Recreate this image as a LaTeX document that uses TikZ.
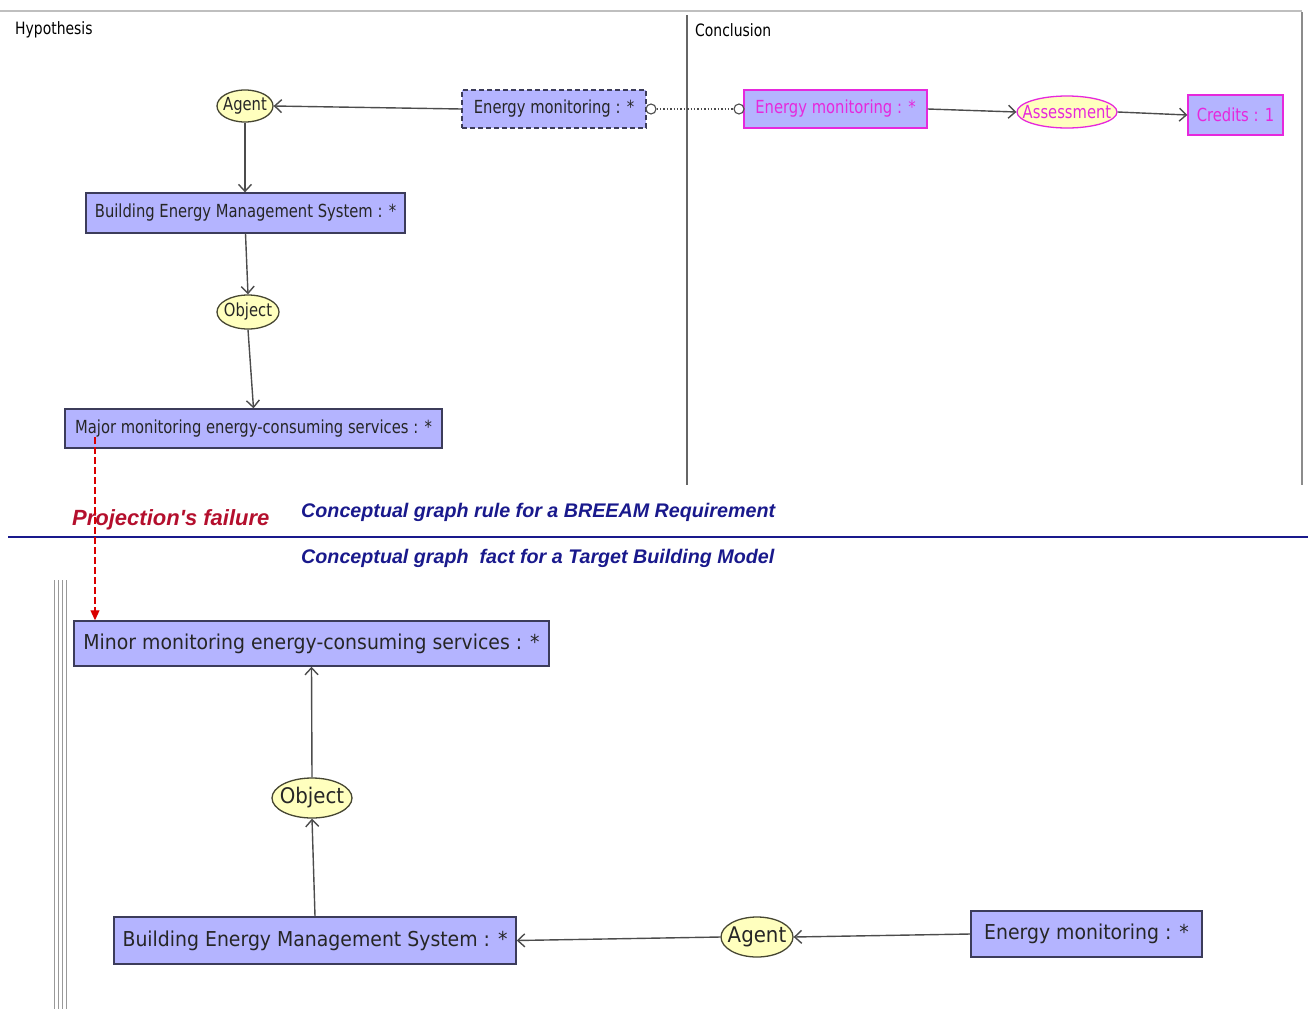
\documentclass[tikz,border=0pt]{standalone}
\usepackage{fontspec}
\setmainfont{DejaVu Sans}
\newfontfamily\condf[FakeStretch=0.82]{DejaVu Sans}
\newfontfamily\tahf[FakeStretch=0.92]{DejaVu Sans}
\newfontfamily\capf{Liberation Sans}
\usetikzlibrary{shapes.geometric,arrows.meta}
\definecolor{boxfill}{RGB}{180,180,255}
\definecolor{boxline}{RGB}{60,60,90}
\definecolor{ellfill}{RGB}{255,255,190}
\definecolor{ellline}{RGB}{70,70,50}
\definecolor{magline}{RGB}{230,40,220}
\definecolor{navy}{RGB}{25,25,140}
\definecolor{failred}{RGB}{180,15,45}
\tikzset{
  concept/.style={draw=boxline, fill=boxfill, line width=1.3pt, inner sep=0pt, text=black!85, font=\condf\fontsize{18}{21}\selectfont},
  bigconcept/.style={concept, line width=1.5pt, font=\tahf\fontsize{20.5}{24}\selectfont},
  relation/.style={ellipse, draw=ellline, fill=ellfill, line width=1.3pt, inner xsep=-4pt, inner ysep=0pt, text=black!85, font=\condf\fontsize{18}{21}\selectfont},
  bigrelation/.style={relation, font=\tahf\fontsize{21.5}{25}\selectfont},
  concl/.style={draw=magline, text=magline},
  arr/.style={draw=black!70, line width=1.4pt, -{Straight Barb[length=7pt,width=13pt,line width=1.4pt]}},
  port/.style={circle, draw=black!70, fill=white, line width=1.1pt, minimum size=10pt, inner sep=0pt},
  paneltitle/.style={anchor=west, inner sep=0pt, text=black, font=\condf\fontsize{17}{20}\selectfont},
  caption/.style={anchor=west, inner sep=0pt, text=navy, font=\capf\bfseries\itshape\fontsize{19.7}{24}\selectfont},
  fail/.style={draw=red!85!black, line width=1.1pt, dash pattern=on 7pt off 3pt, -{Triangle[length=10pt,width=9pt]}}
}
\begin{document}
\begin{tikzpicture}[x=1pt,y=-1pt]
\useasboundingbox (0,0) rectangle (1308,1009);
% frame lines
\draw[black!25, line width=2pt] (0,11) -- (1302,11);
\draw[black!60, line width=2.5pt] (687,15) -- (687,485);
\draw[black!45, line width=1.5pt] (1302,12) -- (1302,485);
\draw[navy, line width=1.2pt] (8,537) -- (1308,537);
\foreach \xx in {54,58,62,66} \draw[black!40, line width=0.9pt] (\xx,580) -- (\xx,1009);
% panel titles
\node[paneltitle] (hyp) at (15,30) {Hypothesis};
\node[paneltitle] (con) at (695,30) {Conclusion};
% hypothesis graph
\node[concept, dash pattern=on 5pt off 3pt, minimum width=184pt, minimum height=38pt] (em1) at (554,109) {Energy monitoring : *};
\node[relation, minimum width=56pt, minimum height=32pt] (agent1) at (245,106) {Agent};
\node[concept, minimum width=319pt, minimum height=40pt] (bems1) at (245.5,213) {Building Energy Management System : *};
\node[relation, minimum width=62pt, minimum height=34pt] (obj1) at (248,312) {Object};
\node[concept, minimum width=377pt, minimum height=39pt] (major) at (253.5,428.5) {Major monitoring energy-consuming services : *};
\draw[arr] (em1.west) -- (agent1.east);
\draw[arr] (agent1.south) -- (agent1.south |- bems1.north);
\draw[arr] (bems1.south) -- (obj1.north);
\draw[arr] (obj1.south) -- (major.north);
% conclusion graph
\node[concept, concl, minimum width=183pt, minimum height=38pt] (emC) at (835.5,109) {Energy monitoring : *};
\node[relation, concl, inner xsep=-9pt, minimum width=100pt, minimum height=32pt] (assess) at (1067,112) {Assessment};
\node[concept, concl, minimum width=95pt, minimum height=40pt] (credits) at (1235.5,115) {Credits : 1};
\draw[arr] (emC.east) -- (assess.west);
\draw[arr] (assess.east) -- (credits.west);
\node[port] (p1) at (651,109) {};
\node[port] (p2) at (739,109) {};
\draw[black!70, line width=1.4pt, dotted] (p1) -- (p2);
% captions
\node[caption, text=failred, font=\capf\bfseries\itshape\fontsize{22}{26}\selectfont] (pf) at (72,520) {Projection's failure};
\node[caption] (rule) at (301,512) {Conceptual graph rule for a BREEAM Requirement};
\node[caption] (fact) at (301,558) {Conceptual graph\ \ fact for a Target Building Model};
% fact graph
\node[bigconcept, minimum width=475pt, minimum height=45pt] (minor) at (311.5,643.5) {Minor monitoring energy-consuming services : *};
\node[bigrelation, minimum width=80pt, minimum height=40pt] (obj2) at (312,798) {Object};
\node[bigconcept, minimum width=402pt, minimum height=47pt] (bems2) at (315,940.5) {Building Energy Management System : *};
\node[bigrelation, minimum width=72pt, minimum height=40pt] (agent2) at (757,937) {Agent};
\node[bigconcept, minimum width=231pt, minimum height=46pt] (em2) at (1086.5,934) {Energy monitoring : *};
\draw[arr] (obj2.north) -- (minor.south);
\draw[arr] (bems2.north) -- (obj2.south);
\draw[arr] (agent2.west) -- (bems2.east);
\draw[arr] (em2.west) -- (agent2.east);
% projection failure link
\coordinate (fs) at (95,437);
\draw[fail] (fs) -- (fs |- minor.north);
\end{tikzpicture}
\end{document}
